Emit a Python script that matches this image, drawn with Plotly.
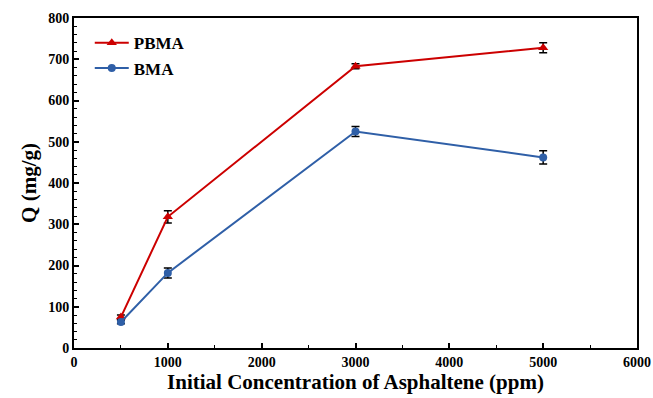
import plotly.graph_objects as go

# Initial asphaltene concentration (ppm)
conc = [500, 1000, 3000, 5000]

# Adsorption capacity Q (mg/g) with standard deviations
pbma_q = [75, 318, 683, 728]
pbma_err = [5, 15, 6, 12]
bma_q = [63, 182, 525, 462]
bma_err = [4, 12, 12, 16]

x_ticks = [0, 1000, 2000, 3000, 4000, 5000, 6000]
y_ticks = [0, 100, 200, 300, 400, 500, 600, 700, 800]

RED = "#CC0000"
BLUE = "#2F5FA7"
FONT = "Liberation Serif, Times New Roman, serif"

fig = go.Figure()

fig.add_trace(go.Scatter(
    x=conc, y=pbma_q, name="PBMA", mode="lines+markers",
    line=dict(color=RED, width=2),
    marker=dict(symbol="triangle-up", size=9, color=RED),
    error_y=dict(type="data", array=pbma_err, visible=True,
                 color="black", thickness=1.5, width=4),
))
fig.add_trace(go.Scatter(
    x=conc, y=bma_q, name="BMA", mode="lines+markers",
    line=dict(color=BLUE, width=2),
    marker=dict(symbol="circle", size=8, color=BLUE),
    error_y=dict(type="data", array=bma_err, visible=True,
                 color="black", thickness=1.5, width=4),
))

axis_common = dict(
    showline=True, linecolor="black", linewidth=2, mirror=True,
    showgrid=False, zeroline=False, automargin=False,
    ticks="inside", ticklen=5, tickwidth=1.5, tickcolor="black",
    tickfont=dict(family=FONT, size=14, color="black"),
)

fig.update_xaxes(
    range=[0, 6000], tickvals=x_ticks,
    ticktext=[f"<b>{v}</b>" for v in x_ticks],
    minor=dict(dtick=500, ticks="inside", ticklen=3, tickcolor="black", tickwidth=1.2),
    title=dict(text="<b>Initial Concentration of Asphaltene (ppm)</b>",
               font=dict(family=FONT, size=21, color="black"),
               standoff=4),
    **axis_common,
)
fig.update_yaxes(
    range=[0, 800], tickvals=y_ticks,
    ticktext=[f"<b>{v}</b>" for v in y_ticks],
    minor=dict(dtick=20, ticks="inside", ticklen=3, tickcolor="black", tickwidth=1.2),
    title=dict(text="<b>Q (mg/g)</b>",
               font=dict(family=FONT, size=21, color="black"),
               standoff=6),
    **axis_common,
)

fig.update_layout(
    width=653, height=398,
    margin=dict(l=74, r=16, t=18, b=50),
    font=dict(family=FONT, color="black"),
    plot_bgcolor="white", paper_bgcolor="white",
    showlegend=True,
    legend=dict(
        x=0.028, y=0.978, xanchor="left", yanchor="top",
        bgcolor="rgba(0,0,0,0)",
        font=dict(family=FONT, size=17, color="black", weight="bold"),
        itemwidth=34, tracegroupgap=0,
    ),
)

fig.write_html("out.html")
